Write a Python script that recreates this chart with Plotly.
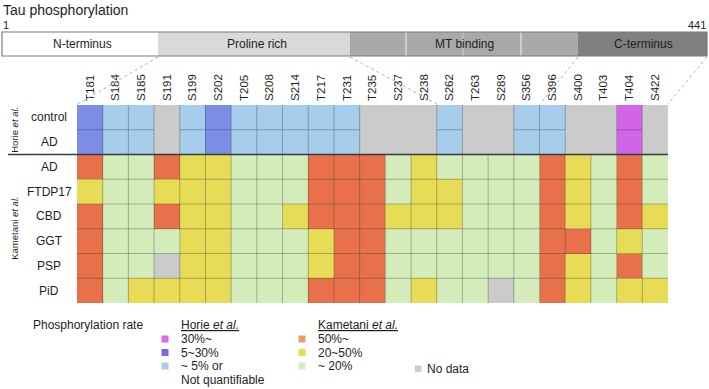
import plotly.graph_objects as go

# ---------------- data ----------------
sites = ["T181", "S184", "S185", "S191", "S199", "S202", "T205", "S208", "S214", "T217", "T231",
         "T235", "S237", "S238", "S262", "T263", "S289", "S356", "S396", "S400", "T403", "T404", "S422"]

row_labels = ["control", "AD", "AD", "FTDP17", "CBD", "GGT", "PSP", "PiD"]

# Horie et al. categories: "30%~", "5~30%", "~5%", "nd"
horie_control = ["5~30%", "~5%", "~5%", "nd", "~5%", "5~30%", "~5%", "~5%", "~5%", "~5%", "~5%",
                 "nd", "nd", "nd", "~5%", "nd", "nd", "~5%", "~5%", "nd", "nd", "30%~", "nd"]
horie_ad = ["5~30%", "~5%", "~5%", "nd", "~5%", "5~30%", "~5%", "~5%", "~5%", "~5%", "~5%",
            "nd", "nd", "nd", "~5%", "nd", "nd", "~5%", "~5%", "nd", "nd", "30%~", "nd"]

# Kametani et al. categories: "50%~", "20~50%", "~20%", "nd"
kam_ad = ["50%~", "~20%", "~20%", "50%~", "20~50%", "20~50%", "~20%", "~20%", "~20%", "50%~", "50%~",
          "50%~", "~20%", "20~50%", "~20%", "~20%", "~20%", "~20%", "50%~", "20~50%", "~20%", "50%~", "~20%"]
kam_ftdp17 = ["20~50%", "~20%", "~20%", "20~50%", "20~50%", "20~50%", "~20%", "~20%", "~20%", "50%~", "50%~",
              "50%~", "~20%", "20~50%", "20~50%", "~20%", "~20%", "~20%", "50%~", "20~50%", "~20%", "50%~", "~20%"]
kam_cbd = ["50%~", "~20%", "~20%", "50%~", "20~50%", "20~50%", "~20%", "~20%", "20~50%", "50%~", "50%~",
           "50%~", "20~50%", "20~50%", "20~50%", "~20%", "~20%", "~20%", "50%~", "20~50%", "~20%", "50%~", "20~50%"]
kam_ggt = ["50%~", "~20%", "~20%", "~20%", "20~50%", "20~50%", "~20%", "~20%", "~20%", "20~50%", "50%~",
           "50%~", "~20%", "~20%", "~20%", "~20%", "~20%", "~20%", "50%~", "50%~", "~20%", "20~50%", "~20%"]
kam_psp = ["50%~", "~20%", "~20%", "nd", "20~50%", "20~50%", "~20%", "~20%", "~20%", "20~50%", "50%~",
           "50%~", "~20%", "~20%", "~20%", "~20%", "~20%", "~20%", "50%~", "20~50%", "~20%", "50%~", "~20%"]
kam_pid = ["50%~", "~20%", "20~50%", "20~50%", "20~50%", "20~50%", "~20%", "~20%", "~20%", "50%~", "50%~",
           "50%~", "~20%", "20~50%", "~20%", "~20%", "nd", "~20%", "50%~", "20~50%", "~20%", "20~50%", "20~50%"]

domain_labels = ["N-terminus", "Proline rich", "MT binding", "C-terminus"]

# ---------------- styling ----------------
cat_order = ["nd", "~5%", "5~30%", "30%~", "~20%", "20~50%", "50%~"]
cell_colors = {"nd": "#cbcbcb", "~5%": "#a6cdeb", "5~30%": "#7b8de6", "30%~": "#d264e7",
               "~20%": "#d4ecba", "20~50%": "#e8dc56", "50%~": "#e8714b"}
legend_colors = {"nd": "#cccccc", "~5%": "#a6cdeb", "5~30%": "#7769e8", "30%~": "#d56ce8",
                 "~20%": "#d6edbc", "20~50%": "#e8dc56", "50%~": "#e9a05a"}

rows = [horie_control, horie_ad, kam_ad, kam_ftdp17, kam_cbd, kam_ggt, kam_psp, kam_pid]
z = [[cat_order.index(v) for v in r] for r in rows]
n = len(cat_order)
colorscale = []
for i, c in enumerate(cat_order):
    colorscale.append([i / n, cell_colors[c]])
    colorscale.append([(i + 1) / n, cell_colors[c]])

FONT = "Liberation Sans, Arial, Helvetica, sans-serif"
TXT = "#1e1e1e"
W, H = 709, 389
L, R, T, B = 77, 41, 105, 86
PW, PH = W - L - R, H - T - B


def px(x):
    return (x - L) / PW


def py(y):
    return (H - B - y) / PH


fig = go.Figure()
fig.add_trace(go.Heatmap(
    z=z, x=list(range(len(sites))), y=list(range(len(rows))),
    colorscale=colorscale, zmin=-0.5, zmax=n - 0.5, showscale=False,
    hoverinfo="skip",
))

shapes = []
annots = []
grid = dict(color="rgba(40,55,40,0.42)", width=0.8)
nc = len(sites)
# Horie grid (no lines inside "no data" blocks)
for j in range(nc):
    if horie_control[j] != "nd" or horie_ad[j] != "nd":
        shapes.append(dict(type="line", xref="x", yref="y", x0=j - 0.5, x1=j + 0.5, y0=0.5, y1=0.5, line=grid))
for j in range(nc - 1):
    for i, r in enumerate([horie_control, horie_ad]):
        if not (r[j] == "nd" and r[j + 1] == "nd"):
            shapes.append(dict(type="line", xref="x", yref="y", x0=j + 0.5, x1=j + 0.5,
                               y0=i - 0.5, y1=i + 0.5, line=grid))
# Kametani grid
for i in range(2, len(rows) - 1):
    shapes.append(dict(type="line", xref="x", yref="y", x0=-0.5, x1=nc - 0.5, y0=i + 0.5, y1=i + 0.5, line=grid))
for j in range(nc - 1):
    shapes.append(dict(type="line", xref="x", yref="y", x0=j + 0.5, x1=j + 0.5, y0=1.5, y1=len(rows) - 0.5, line=grid))
# separator between studies
shapes.append(dict(type="line", xref="paper", yref="y", x0=px(8), x1=1, y0=1.5, y1=1.5,
                   line=dict(color="#3a3a3a", width=1.6)))

# ---- domain bar ----
bar_top, bar_bot = 32, 56
segs = [(2, 158, "#ffffff"), (158, 350, "#d9d9d9"), (350, 578, "#a9a9a9"), (578, 707, "#808080")]
for (a, b, col), lab in zip(segs, domain_labels):
    shapes.append(dict(type="rect", xref="paper", yref="paper", x0=px(a), x1=px(b), y0=py(bar_bot), y1=py(bar_top),
                       fillcolor=col, line=dict(width=0), layer="below"))
label_cx = [82, 257, 464, 643]
for lab, cx in zip(domain_labels, label_cx):
    annots.append(dict(text=lab, x=px(cx), y=py(44.5), xref="paper", yref="paper", showarrow=False,
                       xanchor="center", yanchor="middle", font=dict(size=12, color=TXT, family=FONT)))
for xx, col in [(406, "#f2f2f2"), (521, "#f2f2f2"), (463, "#cfcfcf")]:
    shapes.append(dict(type="line", xref="paper", yref="paper", x0=px(xx), x1=px(xx), y0=py(bar_bot), y1=py(bar_top),
                       line=dict(color=col, width=1)))
shapes.append(dict(type="rect", xref="paper", yref="paper", x0=px(2), x1=px(707), y0=py(bar_bot), y1=py(bar_top),
                   line=dict(color="#7a7a7a", width=1.2), fillcolor="rgba(0,0,0,0)"))
# dotted connectors
for (xa, xb) in [(158, 78), (350, 437), (578, 540), (707, 668)]:
    shapes.append(dict(type="line", xref="paper", yref="paper", x0=px(xa), y0=py(57), x1=px(xb), y1=py(104),
                       line=dict(color="#b0b0b0", width=1, dash="dot")))

annots.append(dict(text="Tau phosphorylation", x=px(1), y=py(10), xref="paper", yref="paper", showarrow=False,
                   xanchor="left", yanchor="middle", font=dict(size=14, color=TXT, family=FONT)))
annots.append(dict(text="1", x=px(1), y=py(25), xref="paper", yref="paper", showarrow=False,
                   xanchor="left", yanchor="middle", font=dict(size=11, color=TXT, family=FONT)))
annots.append(dict(text="441", x=px(708), y=py(25), xref="paper", yref="paper", showarrow=False,
                   xanchor="right", yanchor="middle", font=dict(size=11, color=TXT, family=FONT)))

# row labels
for i, lab in enumerate(row_labels):
    annots.append(dict(text=lab, x=px(49), y=i, xref="paper", yref="y", showarrow=False,
                       xanchor="center", yanchor="middle", font=dict(size=12, color=TXT, family=FONT)))
annots.append(dict(text="Horie <i>et al.</i>", x=px(15), y=0.5, xref="paper", yref="y", showarrow=False,
                   textangle=-90, xanchor="center", yanchor="middle", font=dict(size=9.5, color=TXT, family=FONT)))
annots.append(dict(text="Kametani <i>et al.</i>", x=px(15), y=4.5, xref="paper", yref="y", showarrow=False,
                   textangle=-90, xanchor="center", yanchor="middle", font=dict(size=9.5, color=TXT, family=FONT)))

# ---- legend ----
lf = dict(size=12, color=TXT, family=FONT)
annots.append(dict(text="Phosphorylation rate", x=px(31), y=py(325), xref="paper", yref="paper", showarrow=False,
                   xanchor="left", yanchor="middle", font=lf))


def legend_block(title, sq_x, items, y0):
    annots.append(dict(text=title, x=px(sq_x + 14), y=py(y0), xref="paper", yref="paper", showarrow=False,
                       xanchor="left", yanchor="middle", font=lf))
    for k, (cat, lab) in enumerate(items):
        yy = y0 + 14 + 13.5 * k
        shapes.append(dict(type="rect", xref="paper", yref="paper", x0=px(sq_x - 3.5), x1=px(sq_x + 3.5),
                           y0=py(yy + 3.5), y1=py(yy - 3.5), fillcolor=legend_colors[cat], line=dict(width=0)))
        annots.append(dict(text=lab, x=px(sq_x + 14), y=py(yy), xref="paper", yref="paper", showarrow=False,
                           xanchor="left", yanchor="middle", font=lf))


legend_block("<u>Horie <i>et al.</i></u>", 165,
             [("30%~", "30%~"), ("5~30%", "5~30%"), ("~5%", "~ 5% or")], 325)
annots.append(dict(text="Not quantifiable", x=px(179), y=py(380), xref="paper", yref="paper", showarrow=False,
                   xanchor="left", yanchor="middle", font=lf))
legend_block("<u>Kametani <i>et al.</i></u>", 302,
             [("50%~", "50%~"), ("20~50%", "20~50%"), ("~20%", "~ 20%")], 325)
shapes.append(dict(type="rect", xref="paper", yref="paper", x0=px(415), x1=px(421.5),
                   y0=py(372), y1=py(365.5), fillcolor=legend_colors["nd"], line=dict(width=0)))
annots.append(dict(text="No data", x=px(425), y=py(368.5), xref="paper", yref="paper", showarrow=False,
                   xanchor="left", yanchor="middle", font=lf))

fig.update_layout(
    width=W, height=H, margin=dict(l=L, r=R, t=T, b=B, pad=0),
    paper_bgcolor="white", plot_bgcolor="white",
    shapes=shapes, annotations=annots, showlegend=False,
    xaxis=dict(range=[-0.5, nc - 0.5], side="top", tickvals=list(range(nc)), ticktext=sites,
               tickangle=-90, ticks="", showgrid=False, zeroline=False, showline=False,
               ticklabelstandoff=3,
               tickfont=dict(size=11.5, color=TXT, family=FONT), fixedrange=True),
    yaxis=dict(range=[len(rows) - 0.5, -0.5], showticklabels=False, ticks="", showgrid=False,
               zeroline=False, showline=False, fixedrange=True),
)

fig.write_html("out.html", config={"displayModeBar": False},
               post_script="document.body.style.margin='0';document.body.style.overflow='hidden';")
